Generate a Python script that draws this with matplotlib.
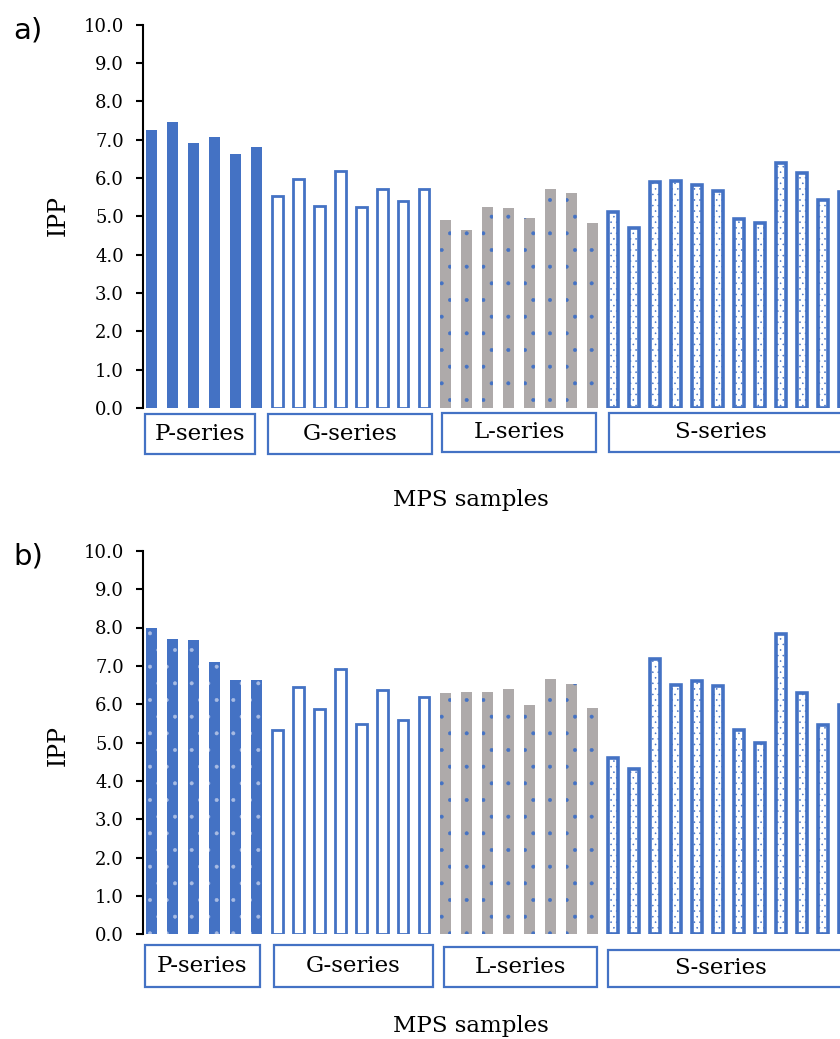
import numpy as np
import matplotlib.pyplot as plt
import matplotlib.transforms as mtransforms
from matplotlib.patches import Rectangle

plt.rcParams['font.family'] = 'DejaVu Serif'
plt.rcParams['hatch.linewidth'] = 0.4

BLUE = '#4472C4'
GREY = '#AEAAAA'

groups = ['P-series', 'G-series', 'L-series', 'S-series']

# panel a
p_a = [7.25, 7.47, 6.91, 7.07, 6.63, 6.81]
g_a = [5.53, 5.98, 5.27, 6.17, 5.25, 5.70, 5.39, 5.72]
l_a = [4.90, 4.64, 5.23, 5.22, 4.95, 5.71, 5.61, 4.83]
s_a = [5.10, 4.69, 5.89, 5.92, 5.81, 5.66, 4.92, 4.82, 6.38, 6.14, 5.43, 5.62]

# panel b
p_b = [7.98, 7.69, 7.67, 7.11, 6.64, 6.64]
g_b = [5.33, 6.45, 5.87, 6.92, 5.48, 6.37, 5.59, 6.18]
l_b = [6.28, 6.33, 6.33, 6.39, 5.98, 6.65, 6.53, 5.89]
s_b = [4.60, 4.32, 7.17, 6.49, 6.60, 6.47, 5.32, 4.99, 7.83, 6.30, 5.46, 5.98]

# group label boxes (x in bar index units, y in axes units)
boxes_a = [(-0.31, 4.93), (5.57, 13.36), (13.86, 21.19), (21.81, 36.0)]
boxes_b = [(-0.31, 5.17), (5.84, 13.40), (13.94, 21.24), (21.76, 36.0)]
box_y_a = [(-0.120, -0.016), (-0.120, -0.016), (-0.115, -0.012), (-0.115, -0.012)]
box_y_b = [(-0.137, -0.028), (-0.137, -0.028), (-0.137, -0.033), (-0.137, -0.040)]
s_label_x = 27.1

fig = plt.figure(figsize=(8.4, 10.39), dpi=100)
ax1 = fig.add_axes([143.3 / 840, 1 - 408 / 1039, 0.8714, 383.5 / 1039])
ax2 = fig.add_axes([143.3 / 840, 1 - 934.3 / 1039, 0.8714, 383.5 / 1039])


def draw_panel(ax, p, g, l, s, boxes, box_y, p_dotted):
    x = np.arange(len(p) + len(g) + len(l) + len(s))
    i0 = len(p)
    i1 = i0 + len(g)
    i2 = i1 + len(l)
    w = 0.52
    # P series
    ax.bar(x[:i0], p, width=w, color=BLUE, linewidth=0)
    if p_dotted:
        ax.bar(x[:i0], p, width=w, fill=False, edgecolor='#A9BCE3',
               linewidth=0, hatch='.')
    # G series
    ax.bar(x[i0:i1], g, width=0.5, color='white', edgecolor=BLUE,
           linewidth=2.0)
    # L series
    ax.bar(x[i1:i2], l, width=w, color=GREY, linewidth=0)
    ax.bar(x[i1:i2], l, width=w, fill=False, edgecolor=BLUE,
           linewidth=0, hatch='.')
    # S series
    ax.bar(x[i2:], s, width=0.5, color='white', edgecolor=BLUE,
           linewidth=0, hatch='...')
    ax.bar(x[i2:], s, width=0.5, fill=False, edgecolor=BLUE, linewidth=2.6)

    ax.set_ylim(0, 10)
    ax.set_xlim(-0.39, 34.5)
    ax.set_yticks(np.arange(0, 10.01, 1.0))
    ax.set_yticklabels(['%.1f' % v for v in np.arange(0, 10.01, 1.0)])
    ax.tick_params(axis='y', labelsize=13, length=5, width=1.5,
                   direction='out', pad=9)
    ax.set_xticks([])
    for side in ['top', 'right', 'bottom']:
        ax.spines[side].set_visible(False)
    ax.spines['left'].set_linewidth(1.5)

    trans = mtransforms.blended_transform_factory(ax.transData, ax.transAxes)
    for name, (a, b), (y0, y1) in zip(groups, boxes, box_y):
        ax.add_patch(Rectangle((a, y0), b - a, y1 - y0, transform=trans,
                               facecolor='white', edgecolor=BLUE,
                               linewidth=1.6, clip_on=False))
        xc = (a + b) / 2 if name != 'S-series' else s_label_x
        ax.text(xc, (y0 + y1) / 2, name, transform=trans, ha='center',
                va='center', fontsize=16.5)


draw_panel(ax1, p_a, g_a, l_a, s_a, boxes_a, box_y_a, False)
draw_panel(ax2, p_b, g_b, l_b, s_b, boxes_b, box_y_b, True)

fig.text(58 / 840, 1 - 215 / 1039, 'IPP', rotation=90, ha='center', va='center', fontsize=17)
fig.text(58 / 840, 1 - 745 / 1039, 'IPP', rotation=90, ha='center', va='center', fontsize=17)
fig.text(471 / 840, 1 - 500 / 1039, 'MPS samples', ha='center', va='center', fontsize=16.5)
fig.text(471 / 840, 1 - 1026 / 1039, 'MPS samples', ha='center', va='center', fontsize=16.5)
fig.text(28 / 840, 1 - 30 / 1039, 'a)', ha='center', va='center', fontsize=21, family='DejaVu Sans')
fig.text(28 / 840, 1 - 557 / 1039, 'b)', ha='center', va='center', fontsize=21, family='DejaVu Sans')

fig.savefig('out.png', dpi=100)
